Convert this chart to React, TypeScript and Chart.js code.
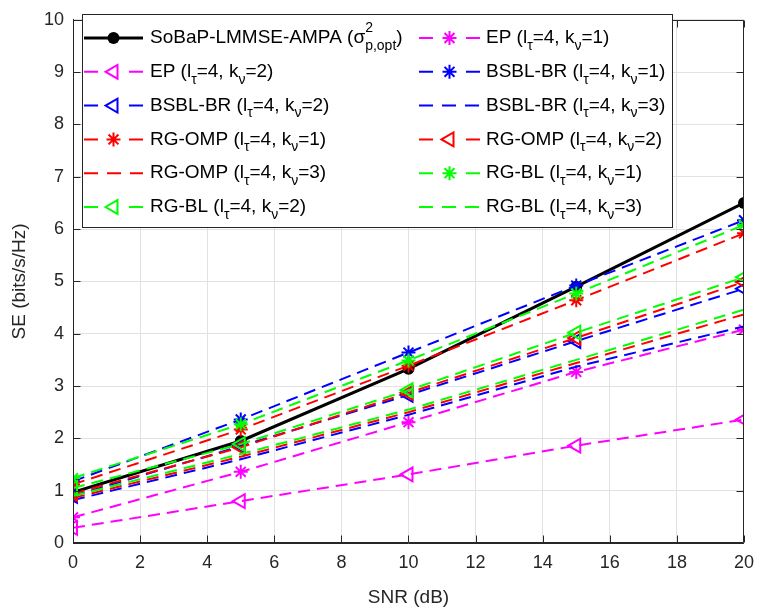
import React, { useEffect, useRef } from "react";
import { Chart, registerables } from "chart.js";

Chart.register(...registerables);

// ---- data ----
const snr = [0, 5, 10, 15, 20];
const xTicks = [0, 2, 4, 6, 8, 10, 12, 14, 16, 18, 20];
const yTicks = [0, 1, 2, 3, 4, 5, 6, 7, 8, 9, 10];

const sobap = [0.97, 1.95, 3.33, 4.9, 6.5];
const ep1 = [0.49, 1.36, 2.31, 3.27, 4.08];
const ep2 = [0.29, 0.8, 1.31, 1.86, 2.36];
const bsbl1 = [1.18, 2.36, 3.64, 4.92, 6.17];
const bsbl2 = [0.9, 1.85, 2.83, 3.86, 4.86];
const bsbl3 = [0.82, 1.6, 2.45, 3.37, 4.14];
const omp1 = [1.12, 2.17, 3.39, 4.64, 5.92];
const omp2 = [0.94, 1.83, 2.87, 3.92, 4.99];
const omp3 = [0.86, 1.65, 2.5, 3.44, 4.37];
const bl1 = [1.24, 2.27, 3.49, 4.77, 6.08];
const bl2 = [1.05, 1.89, 2.92, 4.02, 5.08];
const bl3 = [0.9, 1.7, 2.55, 3.5, 4.46];

const xTitle = "SNR (dB)";
const yTitle = "SE (bits/s/Hz)";
const mainName = "SoBaP-LMMSE-AMPA";
const lTau = 4;

const FONT = "'Liberation Sans', Arial, Helvetica, sans-serif";
const AXIS = "#262626";

type Series = {
  name: string;
  k: number;
  values: number[];
  color: string;
  marker: "star" | "triangle" | "none";
};

const series: Series[] = [
  { name: "EP", k: 1, values: ep1, color: "#ff00ff", marker: "star" },
  { name: "EP", k: 2, values: ep2, color: "#ff00ff", marker: "triangle" },
  { name: "BSBL-BR", k: 1, values: bsbl1, color: "#0000ff", marker: "star" },
  { name: "BSBL-BR", k: 2, values: bsbl2, color: "#0000ff", marker: "triangle" },
  { name: "BSBL-BR", k: 3, values: bsbl3, color: "#0000ff", marker: "none" },
  { name: "RG-OMP", k: 1, values: omp1, color: "#ff0000", marker: "star" },
  { name: "RG-OMP", k: 2, values: omp2, color: "#ff0000", marker: "triangle" },
  { name: "RG-OMP", k: 3, values: omp3, color: "#ff0000", marker: "none" },
  { name: "RG-BL", k: 1, values: bl1, color: "#00ff00", marker: "star" },
  { name: "RG-BL", k: 2, values: bl2, color: "#00ff00", marker: "triangle" },
  { name: "RG-BL", k: 3, values: bl3, color: "#00ff00", marker: "none" },
];

const DASH = [12, 7];
const STAR_R = 7;
const TRI_R = 8;

type Part = { t?: string; sub?: boolean; stackSup?: string; stackSub?: string };

function drawRich(ctx: CanvasRenderingContext2D, x: number, y: number, parts: Part[]) {
  const big = `19px ${FONT}`;
  const small = `14px ${FONT}`;
  ctx.textBaseline = "middle";
  ctx.textAlign = "left";
  ctx.fillStyle = "#000";
  for (const p of parts) {
    if (p.stackSup !== undefined || p.stackSub !== undefined) {
      ctx.font = small;
      const w1 = ctx.measureText(p.stackSup || "").width;
      const w2 = ctx.measureText(p.stackSub || "").width;
      ctx.fillText(p.stackSup || "", x, y - 10);
      ctx.fillText(p.stackSub || "", x, y + 8);
      x += Math.max(w1, w2);
    } else if (p.sub) {
      ctx.font = small;
      ctx.fillText(p.t || "", x, y + 8);
      x += ctx.measureText(p.t || "").width;
    } else {
      ctx.font = big;
      ctx.fillText(p.t || "", x, y);
      x += ctx.measureText(p.t || "").width;
    }
  }
}

function seriesParts(s: Series): Part[] {
  return [
    { t: `${s.name} (l` },
    { t: "τ", sub: true },
    { t: `=${lTau}, k` },
    { t: "ν", sub: true },
    { t: `=${s.k})` },
  ];
}

function drawStar(ctx: CanvasRenderingContext2D, x: number, y: number, r: number) {
  ctx.beginPath();
  for (let i = 0; i < 4; i++) {
    const a = (i * Math.PI) / 4;
    ctx.moveTo(x - r * Math.cos(a), y - r * Math.sin(a));
    ctx.lineTo(x + r * Math.cos(a), y + r * Math.sin(a));
  }
  ctx.stroke();
}

function drawTriLeft(ctx: CanvasRenderingContext2D, x: number, y: number, r: number) {
  const edge = (3 * r) / Math.sqrt(3);
  const h = (edge * Math.sqrt(3)) / 2;
  ctx.beginPath();
  ctx.moveTo(x - h * (2 / 3), y);
  ctx.lineTo(x + h / 3, y - edge / 2);
  ctx.lineTo(x + h / 3, y + edge / 2);
  ctx.closePath();
  ctx.stroke();
}

const framePlugin = {
  id: "frame",
  afterDatasetsDraw(chart: any) {
    const { ctx, chartArea } = chart;
    const { left, right, top, bottom } = chartArea;
    const xs = chart.scales.x;
    const ys = chart.scales.y;
    ctx.save();
    ctx.strokeStyle = AXIS;
    ctx.lineWidth = 1;
    const L = Math.round(left) + 0.5;
    const R = Math.round(right) - 0.5;
    const T = Math.round(top) + 0.5;
    const B = Math.round(bottom) - 0.5;
    ctx.beginPath();
    ctx.moveTo(L, T);
    ctx.lineTo(R, T);
    ctx.lineTo(R, B);
    ctx.lineTo(L, B);
    ctx.closePath();
    ctx.stroke();
    const tl = 7;
    ctx.beginPath();
    for (const v of xTicks) {
      const px = Math.round(xs.getPixelForValue(v)) + 0.5;
      ctx.moveTo(px, B);
      ctx.lineTo(px, B - tl);
      ctx.moveTo(px, T);
      ctx.lineTo(px, T + tl);
    }
    for (const v of yTicks) {
      const py = Math.round(ys.getPixelForValue(v)) + 0.5;
      ctx.moveTo(L, py);
      ctx.lineTo(L + tl, py);
      ctx.moveTo(R, py);
      ctx.lineTo(R - tl, py);
    }
    ctx.stroke();
    ctx.restore();
  },
  afterDraw(chart: any) {
    const ctx: CanvasRenderingContext2D = chart.ctx;
    ctx.save();
    const bx0 = 82.5, by0 = 14.5, bx1 = 672.5, by1 = 227.5;
    ctx.fillStyle = "#ffffff";
    ctx.fillRect(bx0, by0, bx1 - bx0, by1 - by0);
    ctx.strokeStyle = AXIS;
    ctx.lineWidth = 1;
    ctx.strokeRect(bx0, by0, bx1 - bx0, by1 - by0);

    const cols = [
      { l0: 84, l1: 143, tx: 150 },
      { l0: 419, l1: 480, tx: 486 },
    ];
    const rowY = (i: number) => 38 + i * 33.8;

    type Entry = { kind: "main" } | { kind: "s"; s: Series };
    const entries: Entry[] = [{ kind: "main" }, ...series.map((s) => ({ kind: "s" as const, s }))];
    entries.forEach((e, idx) => {
      const c = cols[idx % 2];
      const y = rowY(Math.floor(idx / 2));
      const mx = (c.l0 + c.l1) / 2;
      if (e.kind === "main") {
        ctx.strokeStyle = "#000";
        ctx.lineWidth = 3;
        ctx.setLineDash([]);
        ctx.beginPath();
        ctx.moveTo(c.l0, y);
        ctx.lineTo(c.l1, y);
        ctx.stroke();
        ctx.fillStyle = "#000";
        ctx.beginPath();
        ctx.arc(mx, y, 6, 0, Math.PI * 2);
        ctx.fill();
        drawRich(ctx, c.tx, y, [
          { t: `${mainName} (σ` },
          { stackSup: "2", stackSub: "p,opt" },
          { t: ")" },
        ]);
      } else {
        const s = e.s;
        ctx.strokeStyle = s.color;
        ctx.lineWidth = 2;
        ctx.setLineDash([14, 9]);
        ctx.beginPath();
        if (s.marker === "none") {
          ctx.moveTo(c.l0, y);
          ctx.lineTo(c.l1, y);
        } else {
          ctx.moveTo(c.l0, y);
          ctx.lineTo(c.l0 + 14, y);
          ctx.moveTo(c.l1 - 14, y);
          ctx.lineTo(c.l1, y);
        }
        ctx.stroke();
        ctx.setLineDash([]);
        if (s.marker === "star") drawStar(ctx, mx, y, STAR_R);
        if (s.marker === "triangle") drawTriLeft(ctx, mx, y, TRI_R);
        drawRich(ctx, c.tx, y, seriesParts(s));
      }
    });
    ctx.restore();
  },
};

export default function App() {
  const ref = useRef<HTMLCanvasElement | null>(null);

  useEffect(() => {
    document.body.style.margin = "0";
    const canvas = ref.current;
    if (!canvas) return;

    const datasets: any[] = [
      {
        label: `${mainName} (σ²p,opt)`,
        data: snr.map((x, i) => ({ x, y: sobap[i] })),
        borderColor: "#000",
        backgroundColor: "#000",
        borderWidth: 3,
        pointStyle: "circle",
        pointRadius: 6,
        pointBorderWidth: 0,
        pointBackgroundColor: "#000",
        order: 100,
      },
      ...series.map((s, idx) => ({
        label: `${s.name} (lτ=${lTau}, kν=${s.k})`,
        data: snr.map((x, i) => ({ x, y: s.values[i] })),
        borderColor: s.color,
        backgroundColor: "rgba(0,0,0,0)",
        borderWidth: 2,
        borderDash: DASH,
        pointStyle: s.marker === "star" ? "star" : s.marker === "triangle" ? "triangle" : false,
        pointRotation: s.marker === "triangle" ? -90 : 0,
        pointRadius: s.marker === "none" ? 0 : s.marker === "star" ? STAR_R : TRI_R,
        pointBorderColor: s.color,
        pointBackgroundColor: "rgba(0,0,0,0)",
        pointBorderWidth: 2,
        order: 50 - idx,
      })),
    ];

    const chart = new Chart(canvas, {
      type: "line",
      data: { datasets },
      plugins: [framePlugin],
      options: {
        animation: false,
        responsive: false,
        devicePixelRatio: 1,
        events: [],
        layout: { padding: { top: 9, right: 13, left: 0, bottom: 0 } },
        plugins: { legend: { display: false }, tooltip: { enabled: false } },
        elements: { line: { tension: 0 } },
        scales: {
          x: {
            type: "linear",
            min: 0,
            max: 20,
            afterBuildTicks: (s: any) => {
              s.ticks = xTicks.map((v) => ({ value: v }));
            },
            afterFit: (s: any) => {
              s.height = 70;
            },
            grid: { color: "#e2e2e2", lineWidth: 1, drawTicks: false },
            border: { color: AXIS, width: 1 },
            ticks: { color: AXIS, font: { size: 18, family: FONT }, padding: 9, maxRotation: 0, autoSkip: false },
            title: {
              display: true,
              text: xTitle,
              color: AXIS,
              font: { size: 19, family: FONT },
              padding: { top: 0, bottom: 4 },
            },
          },
          y: {
            type: "linear",
            min: 0,
            max: 10,
            afterBuildTicks: (s: any) => {
              s.ticks = yTicks.map((v) => ({ value: v }));
            },
            afterFit: (s: any) => {
              s.width = 73;
            },
            grid: { color: "#e2e2e2", lineWidth: 1, drawTicks: false },
            border: { color: AXIS, width: 1 },
            ticks: { color: AXIS, font: { size: 18, family: FONT }, padding: 9, autoSkip: false },
            title: {
              display: true,
              text: yTitle,
              color: AXIS,
              font: { size: 19, family: FONT },
              padding: { top: 8, bottom: 0 },
            },
          },
        },
      } as any,
    });
    return () => chart.destroy();
  }, []);

  return (
    <div style={{ width: 763, height: 613 }}>
      <canvas ref={ref} width={763} height={613} />
    </div>
  );
}
